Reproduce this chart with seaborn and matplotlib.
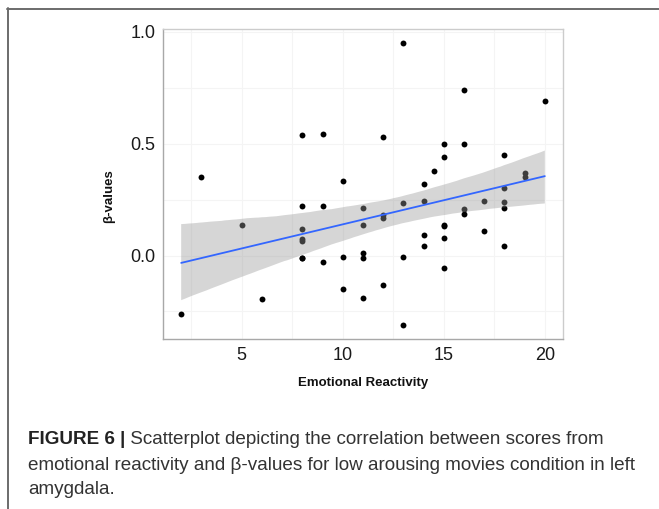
import matplotlib
matplotlib.use("Agg")
import matplotlib.pyplot as plt
import seaborn as sns
import numpy as np
import pandas as pd
from matplotlib.lines import Line2D
from matplotlib.ticker import MultipleLocator

# values
reactivity = [2, 3, 5, 6,
              8, 8, 8, 8, 8, 8, 8,
              9, 9, 9,
              10, 10, 10,
              11, 11, 11, 11, 11,
              12, 12, 12, 12,
              13, 13, 13, 13,
              14, 14, 14, 14, 14.5,
              15, 15, 15, 15, 15, 15,
              16, 16, 16, 16,
              17, 17,
              18, 18, 18, 18, 18,
              19, 19, 20]
beta_values = [-0.26, 0.35, 0.138, -0.196,
               0.54, 0.223, 0.12, 0.076, 0.067, -0.01, -0.013,
               0.545, 0.22, -0.03,
               0.335, -0.005, -0.148,
               0.214, 0.138, 0.012, -0.01, -0.19,
               0.53, 0.183, 0.17, -0.13,
               0.95, 0.237, -0.005, -0.31,
               0.32, 0.245, 0.094, 0.045, 0.38,
               0.50, 0.44, 0.135, 0.13, 0.08, -0.054,
               0.74, 0.50, 0.21, 0.188,
               0.245, 0.11,
               0.45, 0.30, 0.24, 0.214, 0.045,
               0.37, 0.35, 0.69]
x_ticks = [5, 10, 15, 20]
y_ticks = [0.0, 0.5, 1.0]
caption_bold = "FIGURE 6 |"
caption_lines = [" Scatterplot depicting the correlation between scores from",
                 "emotional reactivity and \u03b2-values for low arousing movies condition in left",
                 "amygdala."]

df = pd.DataFrame({"reactivity": reactivity, "beta": beta_values})

sns.set_style("white")
plt.rcParams['font.family'] = ['Liberation Sans', 'DejaVu Sans']

fig = plt.figure(figsize=(6.59, 5.09), dpi=100)
ax = fig.add_axes([163 / 659, 1 - 339 / 509, 400 / 659, 310 / 509])

sns.regplot(data=df, x="reactivity", y="beta", ax=ax, ci=95, n_boot=4000, seed=1,
            scatter_kws={"s": 18, "color": "black", "linewidths": 0, "alpha": 1},
            line_kws={"color": "#3366FF", "lw": 1.3})

# restyle the confidence band like ggplot's grey ribbon
for coll in ax.collections[1:]:
    coll.set_facecolor("#999999")
    coll.set_alpha(0.4)
    coll.set_edgecolor("none")

ax.set_xlim(1.1, 20.9)
ax.set_ylim(-0.373, 1.013)
ax.set_xticks(x_ticks)
ax.set_yticks(y_ticks)
ax.set_yticklabels([f"{v:.1f}" for v in y_ticks])
ax.xaxis.set_minor_locator(MultipleLocator(2.5))
ax.yaxis.set_minor_locator(MultipleLocator(0.25))
ax.grid(which="both", color="#F4F4F4", lw=0.8)
ax.set_axisbelow(True)

ax.tick_params(axis="both", which="major", labelsize=13, length=3.5, width=0.8,
               color="#555555", labelcolor="#1a1a1a", pad=2, direction="out")
ax.tick_params(which="minor", length=0)

for side in ["left", "bottom"]:
    ax.spines[side].set_color("#A8A8A8")
    ax.spines[side].set_linewidth(1.0)
for side in ["top", "right"]:
    ax.spines[side].set_color("#CCCCCC")
    ax.spines[side].set_linewidth(1.0)

ax.set_xlabel("Emotional Reactivity", fontsize=9.5, fontweight="bold", color="#111111")
ax.set_ylabel("\u03b2-values", fontsize=9.5, fontweight="bold", color="#111111")
ax.xaxis.set_label_coords(0.5, -(383 - 339) / 310, transform=ax.transAxes)
ax.yaxis.set_label_coords(-(163 - 109) / 400, (339 - 196) / 310, transform=ax.transAxes)
ax.xaxis.label.set_va("center")
ax.yaxis.label.set_va("center")

# outer frame (top and left edges)
fig.add_artist(Line2D([7 / 659, 1.0], [1 - 8.5 / 509, 1 - 8.5 / 509], color="#6b6b6b", lw=1.4))
fig.add_artist(Line2D([7.5 / 659, 7.5 / 659], [0.0, 1 - 8 / 509], color="#6b6b6b", lw=1.4))

# caption
cap_size = 13.6
y_rows = [440, 465, 489]
t_bold = fig.text(28 / 659, 1 - y_rows[0] / 509, caption_bold, fontsize=cap_size,
                  fontweight="bold", color="#222222", va="center", ha="left")
fig.canvas.draw()
bb = t_bold.get_window_extent(fig.canvas.get_renderer())
fig.text(bb.x1 / fig.bbox.width, 1 - y_rows[0] / 509, caption_lines[0], fontsize=cap_size,
         color="#333333", va="center", ha="left")
for line, yy in zip(caption_lines[1:], y_rows[1:]):
    fig.text(28 / 659, 1 - yy / 509, line, fontsize=cap_size, color="#333333",
             va="center", ha="left")

fig.savefig("out.png", dpi=100)
